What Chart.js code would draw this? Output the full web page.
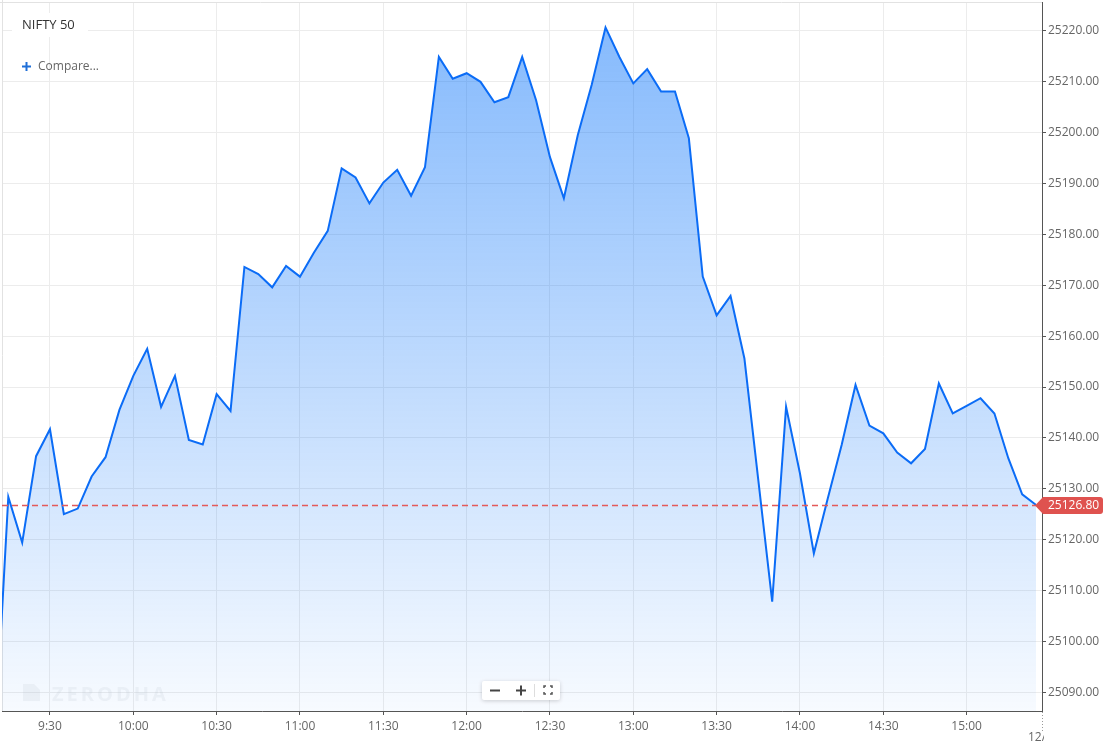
<!DOCTYPE html>
<html>
<head>
<meta charset="utf-8">
<title>NIFTY 50</title>
<script src="https://cdn.jsdelivr.net/npm/chart.js@4/dist/chart.umd.min.js"></script>
<style>
  html, body { margin: 0; padding: 0; background: #fff; }
  #wrap { position: relative; width: 1104px; height: 749px; }
</style>
</head>
<body>
<div id="wrap"><canvas id="myChart"></canvas></div>
<script>
const instrument = "NIFTY 50"
const lastPrice = 25126.80

// 5 minute points
const times = [
  "9:10", "9:15", "9:20", "9:25", "9:30", "9:35", "9:40", "9:45", "9:50", "9:55",
  "10:00", "10:05", "10:10", "10:15", "10:20", "10:25", "10:30", "10:35", "10:40", "10:45",
  "10:50", "10:55", "11:00", "11:05", "11:10", "11:15", "11:20", "11:25", "11:30", "11:35",
  "11:40", "11:45", "11:50", "11:55", "12:00", "12:05", "12:10", "12:15", "12:20", "12:25",
  "12:30", "12:35", "12:40", "12:45", "12:50", "12:55", "13:00", "13:05", "13:10", "13:15",
  "13:20", "13:25", "13:30", "13:35", "13:40", "13:45", "13:50", "13:55", "14:00", "14:05",
  "14:10", "14:15", "14:20", "14:25", "14:30", "14:35", "14:40", "14:45", "14:50", "14:55",
  "15:00", "15:05", "15:10", "15:15", "15:20", "15:25"
]
const prices = [
  25078.5, 25128.4, 25119.4, 25136.4, 25141.7, 25125.0, 25126.1, 25132.4, 25136.2, 25145.5,
  25152.2, 25157.5, 25146.1, 25152.2, 25139.6, 25138.7, 25148.6, 25145.3, 25173.6, 25172.2,
  25169.6, 25173.8, 25171.7, 25176.4, 25180.7, 25193.0, 25191.2, 25186.1, 25190.2, 25192.7,
  25187.6, 25193.2, 25214.9, 25210.6, 25211.7, 25210.0, 25206.0, 25207.0, 25214.9, 25206.4,
  25195.2, 25187.1, 25199.5, 25209.4, 25220.7, 25214.9, 25209.7, 25212.5, 25208.1, 25208.1,
  25198.9, 25171.7, 25164.1, 25167.9, 25155.6, 25131.7, 25107.8, 25146.1, 25133.0, 25117.3,
  25128.1, 25138.6, 25150.4, 25142.4, 25140.9, 25137.1, 25135.0, 25137.8, 25150.7, 25144.8,
  25146.3, 25147.8, 25144.8, 25136.0, 25128.9, 25126.8
]

const xTickLabels = ["9:30", "10:00", "10:30", "11:00", "11:30", "12:00", "12:30", "13:00", "13:30", "14:00", "14:30", "15:00"]
const yTickValues = [25090, 25100, 25110, 25120, 25130, 25140, 25150, 25160, 25170, 25180, 25190, 25200, 25210, 25220]

function toMinutes(t) {
    const partes = t.split(":").map(Number)
    return partes[0] * 60 + partes[1]
}

const puntos = times.map((t, i) => ({ x: toMinutes(t), y: prices[i] }))

Chart.defaults.font.family = "'Open Sans', sans-serif"
Chart.defaults.font.size = 12
Chart.defaults.color = "#666"

function rellenoDegradado(context) {
    const chart = context.chart
    const area = chart.chartArea
    if (!area) return "rgba(0,110,250,0.2)"
    const g = chart.ctx.createLinearGradient(0, area.top, 0, area.bottom)
    g.addColorStop(0, "rgba(0,110,250,0.49)")
    g.addColorStop(1, "rgba(0,110,250,0.03)")
    return g
}

const decoracion = {
    id: "decoracion",
    beforeDatasetsDraw(chart) {
        const ctx = chart.ctx
        const a = chart.chartArea
        ctx.save()
        // marco izquierdo y superior
        ctx.strokeStyle = "#e2e2e2"
        ctx.lineWidth = 1
        ctx.beginPath()
        ctx.moveTo(a.left + 0.5, 0)
        ctx.lineTo(a.left + 0.5, a.bottom)
        ctx.moveTo(0, a.top + 0.5)
        ctx.lineTo(a.right, a.top + 0.5)
        ctx.stroke()
        ctx.restore()
    },
    afterDatasetsDraw(chart) {
        const ctx = chart.ctx
        ctx.save()
        // marca de agua
        ctx.fillStyle = "rgba(185,192,205,0.18)"
        ctx.beginPath()
        ctx.moveTo(23, 684)
        ctx.lineTo(34, 684)
        ctx.lineTo(40, 690)
        ctx.lineTo(40, 701)
        ctx.lineTo(23, 701)
        ctx.closePath()
        ctx.fill()
        ctx.font = "bold 20px 'Open Sans', sans-serif"
        ctx.letterSpacing = "3px"
        ctx.textBaseline = "alphabetic"
        ctx.fillText("ZERODHA", 52, 701)
        ctx.letterSpacing = "0px"
        ctx.restore()
    },
    afterDraw(chart) {
        const ctx = chart.ctx
        const a = chart.chartArea
        const y = Math.round(chart.scales.y.getPixelForValue(lastPrice))
        ctx.save()

        // linea de ultimo precio
        ctx.strokeStyle = "#e35a5a"
        ctx.lineWidth = 1.6
        ctx.setLineDash([6, 4])
        ctx.beginPath()
        ctx.moveTo(a.left, y + 0.5)
        ctx.lineTo(a.right - 6, y + 0.5)
        ctx.stroke()
        ctx.setLineDash([])

        // titulo
        ctx.fillStyle = "#fff"
        ctx.fillRect(12, 13, 76, 24)
        ctx.fillStyle = "#333"
        ctx.font = "13px 'Open Sans', sans-serif"
        ctx.textBaseline = "middle"
        ctx.fillText(instrument, 22, 25)

        // compare
        ctx.strokeStyle = "#1f6fd8"
        ctx.lineWidth = 2
        ctx.beginPath()
        ctx.moveTo(22, 66.5)
        ctx.lineTo(31, 66.5)
        ctx.moveTo(26.5, 62)
        ctx.lineTo(26.5, 71)
        ctx.stroke()
        ctx.fillStyle = "#666"
        ctx.font = "12px 'Open Sans', sans-serif"
        ctx.fillText("Compare...", 38, 66.5)

        // etiqueta roja del precio
        ctx.fillStyle = "#df524f"
        ctx.beginPath()
        ctx.moveTo(a.right - 7, y + 0.5)
        ctx.lineTo(a.right + 1, y - 8)
        ctx.lineTo(1100, y - 8)
        ctx.quadraticCurveTo(1103, y - 8, 1103, y - 5)
        ctx.lineTo(1103, y + 6)
        ctx.quadraticCurveTo(1103, y + 9, 1100, y + 9)
        ctx.lineTo(a.right + 1, y + 9)
        ctx.closePath()
        ctx.fill()
        ctx.fillStyle = "#fff"
        ctx.fillText(lastPrice.toFixed(2), a.right + 6, y + 1)

        // controles de zoom
        ctx.save()
        ctx.shadowColor = "rgba(0,0,0,0.18)"
        ctx.shadowBlur = 4
        ctx.shadowOffsetY = 1
        ctx.fillStyle = "#fff"
        ctx.beginPath()
        ctx.roundRect(482, 681, 78, 19, 2)
        ctx.fill()
        ctx.restore()
        ctx.strokeStyle = "#444"
        ctx.lineWidth = 2
        ctx.beginPath()
        ctx.moveTo(490, 690.5)
        ctx.lineTo(500, 690.5)
        ctx.moveTo(516, 690.5)
        ctx.lineTo(526, 690.5)
        ctx.moveTo(521, 685.5)
        ctx.lineTo(521, 695.5)
        ctx.stroke()
        ctx.strokeStyle = "#ddd"
        ctx.lineWidth = 1
        ctx.beginPath()
        ctx.moveTo(534.5, 684)
        ctx.lineTo(534.5, 697)
        ctx.stroke()
        ctx.strokeStyle = "#555"
        ctx.lineWidth = 1.5
        ctx.beginPath()
        ctx.moveTo(544, 688); ctx.lineTo(544, 686); ctx.lineTo(546, 686)
        ctx.moveTo(550, 686); ctx.lineTo(552, 686); ctx.lineTo(552, 688)
        ctx.moveTo(552, 692); ctx.lineTo(552, 694); ctx.lineTo(550, 694)
        ctx.moveTo(546, 694); ctx.lineTo(544, 694); ctx.lineTo(544, 692)
        ctx.stroke()

        // fecha cortada abajo a la derecha
        ctx.strokeStyle = "#999"
        ctx.lineWidth = 1
        ctx.setLineDash([1, 2])
        ctx.beginPath()
        ctx.moveTo(a.right + 0.5, a.bottom + 1)
        ctx.lineTo(a.right + 0.5, a.bottom + 20)
        ctx.stroke()
        ctx.setLineDash([])
        ctx.beginPath()
        ctx.rect(0, a.bottom + 15, a.right + 2, 40)
        ctx.clip()
        ctx.fillStyle = "#666"
        ctx.font = "12px 'Open Sans', sans-serif"
        ctx.fillText("12/05", 1028, 738)

        ctx.restore()
    }
}

const config = {
    type: "line",
    data: {
        datasets: [
            {
                label: instrument,
                data: puntos,
                borderColor: "#0b6cf6",
                borderWidth: 2,
                backgroundColor: rellenoDegradado,
                fill: "start",
                pointRadius: 0,
                pointHoverRadius: 0,
                tension: 0
            }
        ]
    },
    options: {
        responsive: true,
        maintainAspectRatio: false,
        animation: false,
        events: [],
        layout: {
            padding: { left: 2, top: 2, right: 0, bottom: 0 }
        },
        plugins: {
            legend: { display: false },
            tooltip: { enabled: false }
        },
        scales: {
            x: {
                type: "linear",
                position: "bottom",
                min: 552.73,
                max: 927.13,
                afterBuildTicks(scale) {
                    scale.ticks = xTickLabels.map((t) => ({ value: toMinutes(t) }))
                },
                afterFit(scale) {
                    scale.height = 38
                    scale.paddingLeft = 0
                    scale.paddingRight = 0
                },
                ticks: {
                    autoSkip: false,
                    maxRotation: 0,
                    padding: 4,
                    color: "#666",
                    callback: (value, index) => xTickLabels[index]
                },
                grid: {
                    color: "#ececec",
                    tickColor: "#555",
                    tickLength: 4
                },
                border: { color: "#555" }
            },
            y: {
                type: "linear",
                position: "right",
                min: 25086.3,
                max: 25225.7,
                afterBuildTicks(scale) {
                    scale.ticks = yTickValues.map((v) => ({ value: v }))
                },
                afterFit(scale) {
                    scale.width = 62
                    scale.paddingTop = 0
                    scale.paddingBottom = 0
                },
                ticks: {
                    padding: 2,
                    color: "#666",
                    callback: (value) => value.toFixed(2)
                },
                grid: {
                    color: "#ececec",
                    tickColor: "#555",
                    tickLength: 4
                },
                border: { color: "#555" }
            }
        }
    },
    plugins: [decoracion]
}

new Chart(document.getElementById("myChart"), config)
</script>
</body>
</html>
